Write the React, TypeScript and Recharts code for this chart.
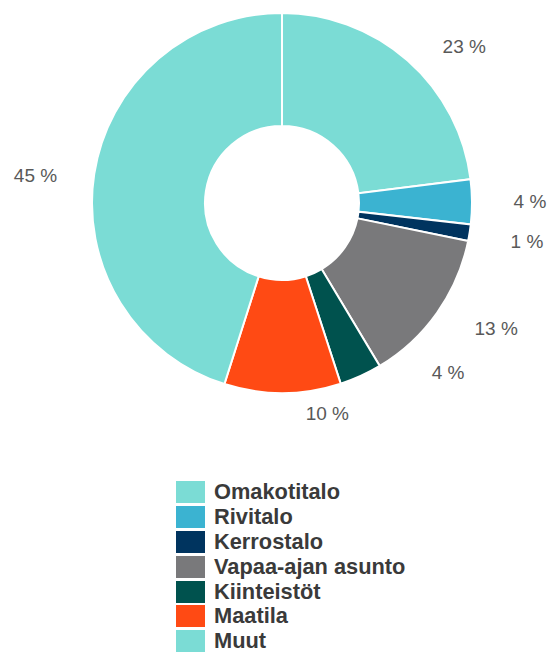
import { PieChart, Pie, Cell, Legend } from 'recharts'

const categories = ['Omakotitalo', 'Rivitalo', 'Kerrostalo', 'Vapaa-ajan asunto', 'Kiinteistöt', 'Maatila', 'Muut']
const shares = [23.0, 3.8, 1.4, 13.2, 3.6, 9.9, 45.1]
const colors = ['#7bdcd5', '#3bb3d1', '#00345f', '#79797b', '#00524e', '#ff4a14', '#7bdcd5']

const data = categories.map((name, i) => ({ name, value: shares[i] }))

const RAD = Math.PI / 180
// label placement tweaks (clockwise degrees, radius px) to mimic the original best-fit labels
const labelAdjust: Record<number, [number, number]> = { 0: [8, -8], 3: [-5, 0], 4: [-20, -11], 5: [-12, -33], 6: [-2.5, 0] }

function renderLabel(props: any) {
  const { cx, cy, midAngle, outerRadius, percent, index } = props
  const [da, dr] = labelAdjust[index] ?? [0, 0]
  const ang = midAngle - da
  const r = outerRadius + 58 + dr
  const x = cx + r * Math.cos(-ang * RAD)
  const y = cy + r * Math.sin(-ang * RAD)
  return (
    <text x={x} y={y} textAnchor="middle" dominantBaseline="central" fill="#595959" fontSize={19}>
      {`${Math.round(percent * 100)} %`}
    </text>
  )
}

function LegendList() {
  return (
    <div>
      {categories.map((name, i) => (
        <div key={name} style={{ display: 'flex', alignItems: 'center', height: 24.8 }}>
          <span style={{ width: 29, height: 22, background: colors[i], display: 'inline-block', marginRight: 9 }} />
          <span style={{ fontSize: 21.8, fontWeight: 'bold', color: '#3a3a3a', lineHeight: '24px' }}>{name}</span>
        </div>
      ))}
    </div>
  )
}

export default function App() {
  return (
    <div style={{ position: 'absolute', left: 0, top: 0, fontFamily: '"Liberation Sans", Arial, sans-serif' }}>
      <PieChart width={550} height={653} margin={{ top: 0, right: 0, bottom: 0, left: 0 }}>
        <Pie
          data={data}
          dataKey="value"
          nameKey="name"
          cx={282}
          cy={203}
          innerRadius={77}
          outerRadius={190}
          startAngle={90}
          endAngle={-270}
          stroke="#ffffff"
          strokeWidth={2}
          label={renderLabel}
          labelLine={false}
          isAnimationActive={false}
        >
          {data.map((d, i) => (
            <Cell key={d.name} fill={colors[i]} />
          ))}
        </Pie>
        <Legend
          layout="vertical"
          align="center"
          verticalAlign="middle"
          content={() => <LegendList />}
          wrapperStyle={{ left: 176, top: 480, width: 'auto', height: 'auto' }}
        />
      </PieChart>
    </div>
  )
}
